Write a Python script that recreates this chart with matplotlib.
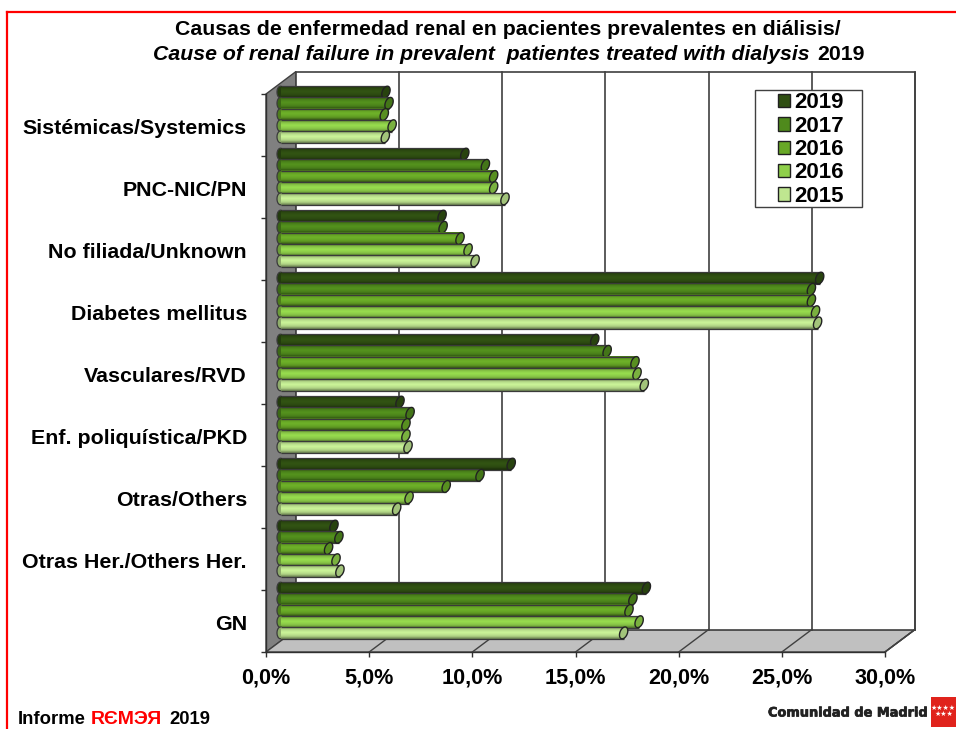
import numpy as np
import matplotlib
matplotlib.use("Agg")
import matplotlib.pyplot as plt
import matplotlib.patheffects as pe
from matplotlib.patches import Polygon, Patch, Rectangle
from matplotlib.colors import to_rgb

plt.rcParams['font.family'] = ['Liberation Sans', 'DejaVu Sans']
plt.rcParams['font.weight'] = 'bold'

categories = ["Sistémicas/Systemics", "PNC-NIC/PN", "No filiada/Unknown", "Diabetes mellitus",
              "Vasculares/RVD", "Enf. poliquística/PKD", "Otras/Others",
              "Otras Her./Others Her.", "GN"]
series_labels = ["2019", "2017", "2016", "2016", "2015"]
v2019 = [5.28, 9.1, 8.0, 26.3, 15.4, 5.96, 11.35, 2.76, 17.9]
v2017 = [5.43, 10.1, 8.05, 25.9, 16.0, 6.45, 9.84, 3.0, 17.25]
v2016a = [5.2, 10.5, 8.87, 25.9, 17.35, 6.25, 8.2, 2.5, 17.06]
v2016b = [5.58, 10.5, 9.26, 26.1, 17.45, 6.25, 6.4, 2.86, 17.55]
v2015 = [5.25, 11.05, 9.6, 26.2, 17.8, 6.35, 5.8, 3.05, 16.8]
series = [v2019, v2017, v2016a, v2016b, v2015]
colors = ["#2f4f12", "#4f8a1c", "#68a826", "#8fd04a", "#bfe690"]
xticks = [0, 5, 10, 15, 20, 25, 30]
xticklabels = ["0,0%", "5,0%", "10,0%", "15,0%", "20,0%", "25,0%", "30,0%"]

W, H = 956, 729
fig = plt.figure(figsize=(W / 100, H / 100), dpi=100, facecolor="white")
L, R, T, B = 266, 885, 94, 652
ax = fig.add_axes([L / W, 1 - B / H, (R - L) / W, (B - T) / H])
ax.set_xlim(0, 30)
ax.set_ylim(8.5, -0.5)
ax.patch.set_visible(False)

px = 30 / (R - L)          # data units per pixel, x
py = 9 / (B - T)           # data units per pixel, y
dx, dy = 30 * px, -22.5 * py   # depth of the 3D box
EDGE = "#404040"

# walls
ax.add_patch(Polygon([(0, -0.5), (dx, -0.5 + dy), (dx, 8.5 + dy), (0, 8.5)], fc="#808080", ec=EDGE, lw=1, clip_on=False, zorder=1))
ax.add_patch(Polygon([(0, 8.5), (dx, 8.5 + dy), (30 + dx, 8.5 + dy), (30, 8.5)], fc="#c0c0c0", ec=EDGE, lw=1, clip_on=False, zorder=1))
ax.add_patch(Polygon([(dx, -0.5 + dy), (30 + dx, -0.5 + dy), (30 + dx, 8.5 + dy), (dx, 8.5 + dy)],
                     fc="white", ec=EDGE, lw=1.2, clip_on=False, zorder=1))
ax.plot([30, 30 + dx], [8.5, 8.5 + dy], color=EDGE, lw=1, clip_on=False, zorder=2)
for t in xticks[1:]:
    ax.plot([t + dx, t + dx], [-0.5 + dy, 8.5 + dy], color=EDGE, lw=1.2, clip_on=False, zorder=2)
    ax.plot([t, t + dx], [8.5, 8.5 + dy], color=EDGE, lw=1, clip_on=False, zorder=2)


def cap(xc, yc, rx, ry, shear):
    t = np.linspace(0, 2 * np.pi, 48)
    ypx = ry * np.sin(t)
    xpx = rx * np.cos(t) - shear * ypx
    return np.column_stack([xc + xpx * px, yc + ypx * py])


# cylinders
x0 = 11 * px
bh = 11.8 * py
pitch = 11.2 * py
grad = np.array([0.72, 0.9, 1.0, 1.06, 1.02, 0.96, 0.84, 0.6])[:, None]
for gi in range(len(categories)):
    cy = gi - 10.5 * py
    for si, vals in enumerate(series):
        y = cy + (si - 2) * pitch
        x1 = x0 + vals[gi]
        col = np.array(to_rgb(colors[si]))
        z = 10 + gi * 10 + si
        xs = x0 + 3.5 * px
        img = np.clip(col[None, None, :] * grad[:, :, None], 0, 1)
        ax.imshow(img, extent=(xs, x1, y + bh / 2, y - bh / 2), aspect="auto", interpolation="bilinear", zorder=z, clip_on=False)
        ax.plot([xs, x1], [y - bh / 2, y - bh / 2], color="#3a3a3a", lw=0.9, zorder=z, solid_capstyle="butt", clip_on=False)
        ax.plot([xs, x1], [y + bh / 2, y + bh / 2], color="#3a3a3a", lw=0.9, zorder=z, solid_capstyle="butt", clip_on=False)
        ax.add_patch(Polygon(cap(xs, y, 3.5, bh / py / 2, 0), fc=col * 0.75, ec="#3a3a3a", lw=0.9, zorder=z - 0.5, clip_on=False))
        ax.add_patch(Polygon(cap(x1, y, 3.9, bh / py / 2, 0.25), fc=col * 0.85, ec="#222222", lw=1, zorder=z + 0.5, clip_on=False))
ax.set_ylim(8.5, -0.5)
ax.set_xlim(0, 30)

# axes
for s in ["top", "right"]:
    ax.spines[s].set_visible(False)
for s in ["left", "bottom"]:
    ax.spines[s].set_color("#303030")
    ax.spines[s].set_linewidth(1)
    ax.spines[s].set_zorder(3)
ax.set_xticks(xticks)
ax.set_xticklabels(xticklabels, fontsize=15.6, fontweight="bold")
ax.tick_params(axis="x", length=3.5, width=1, color="#303030", pad=8)
ax.set_yticks(np.arange(-0.5, 9, 1), minor=True)
ax.tick_params(axis="y", which="minor", length=3.5, width=1, color="#303030")
ax.set_yticks(np.arange(9) + 2 * py)
ax.set_yticklabels(categories, fontsize=15.4, fontweight="bold")
ax.tick_params(axis="y", which="major", length=0, pad=13.7)

# legend
fig.add_artist(Rectangle((755 / W, 1 - 207 / H), 107 / W, 117 / H, transform=fig.transFigure,
                         fc="white", ec="#404040", lw=1, zorder=400))
handles = [Patch(fc=c, ec="#202020", lw=1, label=l) for c, l in zip(colors, series_labels)]
leg = fig.legend(handles=handles, loc="upper left", bbox_to_anchor=(778 / W, 1 - 92.5 / H), bbox_transform=fig.transFigure,
                 fontsize=16, frameon=False, borderaxespad=0,
                 handlelength=0.55, handleheight=0.55, handletextpad=0.2, labelspacing=0.105, borderpad=0)
leg.set_zorder(500)

# title
fig.text(507.5 / W, 1 - 35 / H, "Causas de enfermedad renal en pacientes prevalentes en diálisis/",
         ha="center", va="baseline", fontsize=15.3, fontweight="bold")
fig.text(153 / W, 1 - 59.5 / H, "Cause of renal failure in prevalent  patientes treated with dialysis",
         ha="left", va="baseline", fontsize=15.3, fontweight="bold", style="italic")
fig.text(817 / W, 1 - 59.5 / H, "2019", ha="left", va="baseline", fontsize=15.3, fontweight="bold")

# frame & footer
fig.add_artist(plt.Line2D([7 / W, 7 / W], [0, 1 - 12 / H], color="#ff0000", lw=1.6))
fig.add_artist(plt.Line2D([7 / W, 1], [1 - 12 / H, 1 - 12 / H], color="#ff0000", lw=1.6))
fig.text(18 / W, 1 - 719 / H, "Informe", fontsize=13.3, fontweight="bold", va="center")
fig.text(91 / W, 1 - 719 / H, "RЄMЭЯ", fontsize=14, fontweight="bold", color="#ff0000", va="center")
fig.text(169 / W, 1 - 719 / H, "2019", fontsize=13.3, fontweight="bold", va="center")
fig.text(768 / W, 1 - 713 / H, "Comunidad de Madrid", fontsize=9.3, fontweight="bold", color="#222222", va="center",
         family=["DejaVu Sans"], path_effects=[pe.withStroke(linewidth=0.5, foreground="#222222")])
fig.add_artist(Rectangle((931 / W, 1 - 727 / H), 25 / W, 30 / H, transform=fig.transFigure, fc="#e0231c", ec="none"))
fig.text(943.5 / W, 1 - 711 / H, "★★★★\n★★★", fontsize=5, color="white", ha="center", va="center", linespacing=1.0,
         family=["DejaVu Sans"])

fig.savefig("out.png", dpi=100)
